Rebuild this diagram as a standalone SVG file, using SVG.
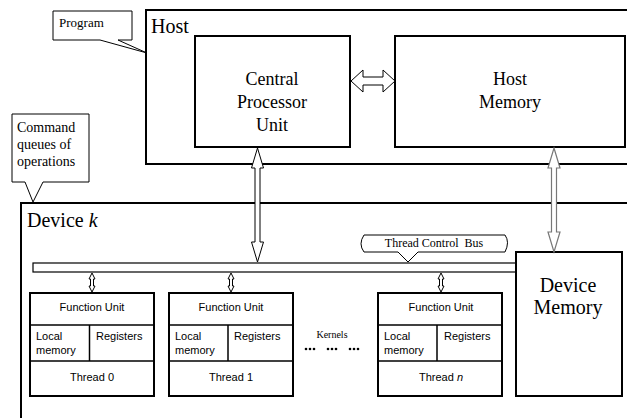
<svg xmlns="http://www.w3.org/2000/svg" width="627" height="418" viewBox="0 0 627 418">
<style>
.box{fill:#fff;stroke:#000;stroke-width:2}
.thin{fill:none;stroke:#000;stroke-width:1.5}
.arr{fill:#fff;stroke:#000;stroke-width:1}
.garr{fill:#fff;stroke:#777;stroke-width:1.2}
.serif{font-family:"Liberation Serif",serif;fill:#000}
.sans{font-family:"Liberation Sans",sans-serif;fill:#000}
.call{fill:#fff;stroke:#000;stroke-width:1}
</style>
<rect width="627" height="418" fill="#fff"/>
<g id="host">
<rect class="box" x="146" y="10" width="490" height="154"/>
<text class="serif" x="151" y="33" font-size="20">Host</text>
</g>
<g id="cpu">
<rect class="box" x="195" y="36" width="155" height="111"/>
<text class="serif" x="272" y="85" font-size="18" text-anchor="middle">Central</text>
<text class="serif" x="272" y="108" font-size="18" text-anchor="middle">Processor</text>
<text class="serif" x="272" y="131" font-size="18" text-anchor="middle">Unit</text>
</g>
<g id="host-memory">
<rect class="box" x="395" y="36" width="230" height="111"/>
<text class="serif" x="510" y="85" font-size="18" text-anchor="middle">Host</text>
<text class="serif" x="510" y="108" font-size="18" text-anchor="middle">Memory</text>
</g>
<g id="device">
<rect class="box" x="21" y="203" width="620" height="230"/>
<text class="serif" x="27" y="227" font-size="20">Device <tspan font-style="italic">k</tspan></text>
</g>
<g id="bus">
<rect fill="#fff" stroke="#000" stroke-width="1.2" x="33" y="263" width="484" height="9"/>
</g>
<g id="device-memory">
<rect class="box" x="516" y="252" width="106" height="144"/>
<text class="serif" x="568" y="292" font-size="20" text-anchor="middle">Device</text>
<text class="serif" x="568" y="314" font-size="20" text-anchor="middle">Memory</text>
</g>
<g id="thread0">
<rect class="box" x="30" y="293" width="124" height="103"/>
<line class="thin" x1="30" y1="325" x2="154" y2="325"/>
<line class="thin" x1="30" y1="361" x2="154" y2="361"/>
<line class="thin" x1="89.5" y1="325" x2="89.5" y2="361"/>
<text class="sans" x="92" y="311" font-size="11" text-anchor="middle">Function Unit</text>
<text class="sans" x="36" y="340" font-size="11">Local</text>
<text class="sans" x="36" y="354" font-size="11">memory</text>
<text class="sans" x="96" y="340" font-size="11">Registers</text>
<text class="sans" x="92" y="381" font-size="11" text-anchor="middle">Thread 0</text>
</g>
<g id="thread1">
<rect class="box" x="169" y="293" width="124" height="103"/>
<line class="thin" x1="169" y1="325" x2="293" y2="325"/>
<line class="thin" x1="169" y1="361" x2="293" y2="361"/>
<line class="thin" x1="228" y1="325" x2="228" y2="361"/>
<text class="sans" x="231" y="311" font-size="11" text-anchor="middle">Function Unit</text>
<text class="sans" x="175" y="340" font-size="11">Local</text>
<text class="sans" x="175" y="354" font-size="11">memory</text>
<text class="sans" x="234" y="340" font-size="11">Registers</text>
<text class="sans" x="231" y="381" font-size="11" text-anchor="middle">Thread 1</text>
</g>
<g id="threadn">
<rect class="box" x="378" y="293" width="124" height="103"/>
<line class="thin" x1="378" y1="325" x2="502" y2="325"/>
<line class="thin" x1="378" y1="361" x2="502" y2="361"/>
<line class="thin" x1="437" y1="325" x2="437" y2="361"/>
<text class="sans" x="441" y="311" font-size="11" text-anchor="middle">Function Unit</text>
<text class="sans" x="384" y="340" font-size="11">Local</text>
<text class="sans" x="384" y="354" font-size="11">memory</text>
<text class="sans" x="444" y="340" font-size="11">Registers</text>
<text class="sans" x="441" y="381" font-size="11" text-anchor="middle">Thread <tspan font-style="italic">n</tspan></text>
</g>
<g id="kernels">
<text class="serif" x="332" y="338" font-size="10" text-anchor="middle">Kernels</text>
<g fill="#000">
<circle cx="306" cy="349" r="1.3"/><circle cx="310" cy="349" r="1.3"/><circle cx="314" cy="349" r="1.3"/>
<circle cx="328" cy="349" r="1.3"/><circle cx="332" cy="349" r="1.3"/><circle cx="336" cy="349" r="1.3"/>
<circle cx="350" cy="349" r="1.3"/><circle cx="354" cy="349" r="1.3"/><circle cx="358" cy="349" r="1.3"/>
</g>
</g>
<g id="program-callout">
<path class="call" d="M53,11 H132 V40 H118 L147,53 L100,40 H53 Z"/>
<text class="serif" x="59" y="27" font-size="13">Program</text>
</g>
<g id="command-callout">
<path class="call" d="M12,114 H89 V182 H43 L33,202 L25,182 H12 Z"/>
<text class="serif" x="17" y="132" font-size="14">Command</text>
<text class="serif" x="17" y="149" font-size="14">queues of</text>
<text class="serif" x="17" y="166" font-size="14">operations</text>
</g>
<g id="bus-callout">
<path class="call" d="M364,235 H505 Q510,242 505,252 H418 L408,262 L398,252 H364 Q358,244 364,235 Z"/>
<text class="serif" x="434" y="247" font-size="12" text-anchor="middle" xml:space="preserve">Thread Control  Bus</text>
</g>
<g id="connectors">
<polygon class="arr" points="351,81 363,70 363,77 383,77 383,70 395,81 383,92 383,85 363,85 363,92"/>
<polygon class="arr" points="257.5,148 263.5,168 260,168 260,242 263.5,242 257.5,262 251.5,242 255,242 255,168 251.5,168"/>
<polygon class="garr" points="554,148 560,168 556.5,168 556.5,232 560,232 554,252 548,232 551.5,232 551.5,168 548,168"/>
<polygon class="arr" points="92,273 95,279 93.5,279 93.5,286 95,286 92,292 89,286 90.5,286 90.5,279 89,279"/>
<polygon class="arr" points="231,273 234,279 232.5,279 232.5,286 234,286 231,292 228,286 229.5,286 229.5,279 228,279"/>
<polygon class="arr" points="441,273 444,279 442.5,279 442.5,286 444,286 441,292 438,286 439.5,286 439.5,279 438,279"/>
</g>
</svg>
